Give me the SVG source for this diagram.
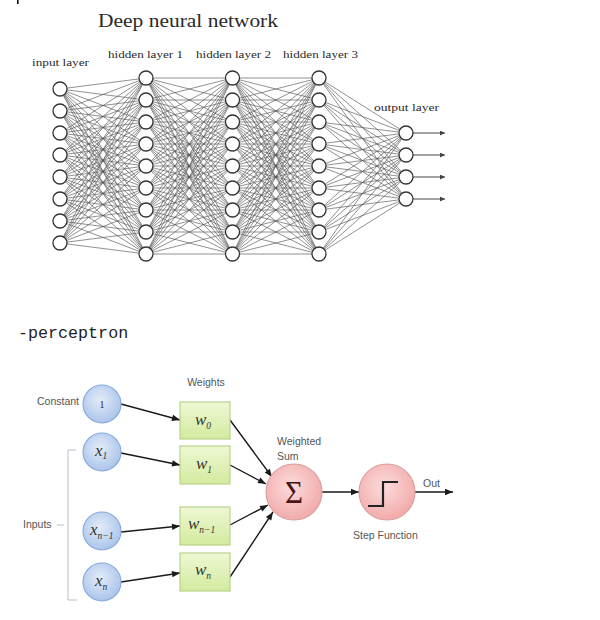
<svg xmlns="http://www.w3.org/2000/svg" xmlns:xlink="http://www.w3.org/1999/xlink" width="600" height="620" viewBox="0 0 600 620">
<style>
.edge{fill:none;stroke:#555;stroke-width:0.65}
.nn circle{fill:#fff;stroke:#333;stroke-width:1.3}
.ttl{font-family:"Liberation Serif",serif;fill:#2a2a2a}
.lbl{font-family:"Liberation Serif",serif;font-size:10px;fill:#2a2a2a}
.outarr{stroke:#444;stroke-width:1;fill:none}
.ps{font-family:"Liberation Sans",Arial,sans-serif;font-size:10.5px;fill:#555}
.m{font-family:"Liberation Serif",serif;font-style:italic;font-size:17px;fill:#333}
.sb{font-size:9.5px}
.blue{fill:url(#gb);stroke:#86a8da;stroke-width:1.1}
.green{fill:url(#gg);stroke:#b4cf84;stroke-width:1.1}
.pink{fill:url(#gp);stroke:#d99e9e;stroke-width:1.1}
.arr{stroke:#1a1a1a;stroke-width:1.4;fill:none;marker-end:url(#ap)}
</style>
<defs>
<radialGradient id="gb" cx="45%" cy="40%" r="65%"><stop offset="0" stop-color="#e3ecf9"/><stop offset="1" stop-color="#a6c1e9"/></radialGradient>
<radialGradient id="gp" cx="45%" cy="40%" r="65%"><stop offset="0" stop-color="#fcdcdc"/><stop offset="1" stop-color="#f1a6a6"/></radialGradient>
<linearGradient id="gg" x1="0" y1="0" x2="0" y2="1"><stop offset="0" stop-color="#eef8d4"/><stop offset="1" stop-color="#d3ea9e"/></linearGradient>
<marker id="an" viewBox="0 0 6 6" refX="6" refY="3" markerWidth="5" markerHeight="5" markerUnits="userSpaceOnUse" orient="auto"><path d="M0,0L6,3L0,6z" fill="#444"/></marker>
<marker id="ap" viewBox="0 0 10 10" refX="10" refY="5" markerWidth="9" markerHeight="8" markerUnits="userSpaceOnUse" orient="auto"><path d="M0,1L10,5L0,9z" fill="#1a1a1a"/></marker>
<path id="hh" d="M0,78L86.5,78M0,78L86.5,100M0,78L86.5,122M0,78L86.5,144M0,78L86.5,166M0,78L86.5,188M0,78L86.5,210M0,78L86.5,232M0,78L86.5,254
M0,100L86.5,78M0,100L86.5,100M0,100L86.5,122M0,100L86.5,144M0,100L86.5,166M0,100L86.5,188M0,100L86.5,210M0,100L86.5,232M0,100L86.5,254
M0,122L86.5,78M0,122L86.5,100M0,122L86.5,122M0,122L86.5,144M0,122L86.5,166M0,122L86.5,188M0,122L86.5,210M0,122L86.5,232M0,122L86.5,254
M0,144L86.5,78M0,144L86.5,100M0,144L86.5,122M0,144L86.5,144M0,144L86.5,166M0,144L86.5,188M0,144L86.5,210M0,144L86.5,232M0,144L86.5,254
M0,166L86.5,78M0,166L86.5,100M0,166L86.5,122M0,166L86.5,144M0,166L86.5,166M0,166L86.5,188M0,166L86.5,210M0,166L86.5,232M0,166L86.5,254
M0,188L86.5,78M0,188L86.5,100M0,188L86.5,122M0,188L86.5,144M0,188L86.5,166M0,188L86.5,188M0,188L86.5,210M0,188L86.5,232M0,188L86.5,254
M0,210L86.5,78M0,210L86.5,100M0,210L86.5,122M0,210L86.5,144M0,210L86.5,166M0,210L86.5,188M0,210L86.5,210M0,210L86.5,232M0,210L86.5,254
M0,232L86.5,78M0,232L86.5,100M0,232L86.5,122M0,232L86.5,144M0,232L86.5,166M0,232L86.5,188M0,232L86.5,210M0,232L86.5,232M0,232L86.5,254
M0,254L86.5,78M0,254L86.5,100M0,254L86.5,122M0,254L86.5,144M0,254L86.5,166M0,254L86.5,188M0,254L86.5,210M0,254L86.5,232M0,254L86.5,254"/>
</defs>
<rect width="600" height="620" fill="#fff"/>
<rect x="17" y="0" width="1.6" height="4" fill="#111"/>

<!-- Deep neural network -->
<text class="ttl" x="98" y="27" font-size="19.5" textLength="180" lengthAdjust="spacingAndGlyphs">Deep neural network</text>
<text class="lbl" x="32" y="66" textLength="57" lengthAdjust="spacingAndGlyphs">input layer</text>
<text class="lbl" x="108" y="58" textLength="75" lengthAdjust="spacingAndGlyphs">hidden layer 1</text>
<text class="lbl" x="196" y="58" textLength="75" lengthAdjust="spacingAndGlyphs">hidden layer 2</text>
<text class="lbl" x="283" y="58" textLength="75" lengthAdjust="spacingAndGlyphs">hidden layer 3</text>
<text class="lbl" x="374" y="111" textLength="65" lengthAdjust="spacingAndGlyphs">output layer</text>

<g id="connectors">
<path class="edge" d="M60,89L146,78M60,89L146,100M60,89L146,122M60,89L146,144M60,89L146,166M60,89L146,188M60,89L146,210M60,89L146,232M60,89L146,254
M60,111L146,78M60,111L146,100M60,111L146,122M60,111L146,144M60,111L146,166M60,111L146,188M60,111L146,210M60,111L146,232M60,111L146,254
M60,133L146,78M60,133L146,100M60,133L146,122M60,133L146,144M60,133L146,166M60,133L146,188M60,133L146,210M60,133L146,232M60,133L146,254
M60,155L146,78M60,155L146,100M60,155L146,122M60,155L146,144M60,155L146,166M60,155L146,188M60,155L146,210M60,155L146,232M60,155L146,254
M60,177L146,78M60,177L146,100M60,177L146,122M60,177L146,144M60,177L146,166M60,177L146,188M60,177L146,210M60,177L146,232M60,177L146,254
M60,199L146,78M60,199L146,100M60,199L146,122M60,199L146,144M60,199L146,166M60,199L146,188M60,199L146,210M60,199L146,232M60,199L146,254
M60,221L146,78M60,221L146,100M60,221L146,122M60,221L146,144M60,221L146,166M60,221L146,188M60,221L146,210M60,221L146,232M60,221L146,254
M60,243L146,78M60,243L146,100M60,243L146,122M60,243L146,144M60,243L146,166M60,243L146,188M60,243L146,210M60,243L146,232M60,243L146,254"/>
<use href="#hh" xlink:href="#hh" class="edge" x="146" y="0"/>
<use href="#hh" xlink:href="#hh" class="edge" x="232.5" y="0"/>
<path class="edge" d="M319,78L406,133M319,78L406,155M319,78L406,177M319,78L406,199
M319,100L406,133M319,100L406,155M319,100L406,177M319,100L406,199
M319,122L406,133M319,122L406,155M319,122L406,177M319,122L406,199
M319,144L406,133M319,144L406,155M319,144L406,177M319,144L406,199
M319,166L406,133M319,166L406,155M319,166L406,177M319,166L406,199
M319,188L406,133M319,188L406,155M319,188L406,177M319,188L406,199
M319,210L406,133M319,210L406,155M319,210L406,177M319,210L406,199
M319,232L406,133M319,232L406,155M319,232L406,177M319,232L406,199
M319,254L406,133M319,254L406,155M319,254L406,177M319,254L406,199"/>
<path class="outarr" marker-end="url(#an)" d="M413,133H445"/>
<path class="outarr" marker-end="url(#an)" d="M413,155H445"/>
<path class="outarr" marker-end="url(#an)" d="M413,177H445"/>
<path class="outarr" marker-end="url(#an)" d="M413,199H445"/>

<!-- perceptron connectors -->
<path class="arr" d="M121,404L180,420"/>
<path class="arr" d="M121,453L180,465"/>
<path class="arr" d="M121,532L180,526"/>
<path class="arr" d="M121,582L180,573"/>
<path class="arr" d="M230,420L272,477"/>
<path class="arr" d="M230,465L266,484"/>
<path class="arr" d="M230,525L268,505"/>
<path class="arr" d="M230,577L273,512"/>
<path class="arr" d="M322,492L359,492"/>
<path class="arr" d="M415,492L453,492"/>
</g>

<g class="nn">
<g id="in-1"><circle cx="60" cy="89" r="7"/></g>
<g id="in-2"><circle cx="60" cy="111" r="7"/></g>
<g id="in-3"><circle cx="60" cy="133" r="7"/></g>
<g id="in-4"><circle cx="60" cy="155" r="7"/></g>
<g id="in-5"><circle cx="60" cy="177" r="7"/></g>
<g id="in-6"><circle cx="60" cy="199" r="7"/></g>
<g id="in-7"><circle cx="60" cy="221" r="7"/></g>
<g id="in-8"><circle cx="60" cy="243" r="7"/></g>
<g id="h1-1"><circle cx="146" cy="78" r="7"/></g>
<g id="h1-2"><circle cx="146" cy="100" r="7"/></g>
<g id="h1-3"><circle cx="146" cy="122" r="7"/></g>
<g id="h1-4"><circle cx="146" cy="144" r="7"/></g>
<g id="h1-5"><circle cx="146" cy="166" r="7"/></g>
<g id="h1-6"><circle cx="146" cy="188" r="7"/></g>
<g id="h1-7"><circle cx="146" cy="210" r="7"/></g>
<g id="h1-8"><circle cx="146" cy="232" r="7"/></g>
<g id="h1-9"><circle cx="146" cy="254" r="7"/></g>
<g id="h2-1"><circle cx="232.5" cy="78" r="7"/></g>
<g id="h2-2"><circle cx="232.5" cy="100" r="7"/></g>
<g id="h2-3"><circle cx="232.5" cy="122" r="7"/></g>
<g id="h2-4"><circle cx="232.5" cy="144" r="7"/></g>
<g id="h2-5"><circle cx="232.5" cy="166" r="7"/></g>
<g id="h2-6"><circle cx="232.5" cy="188" r="7"/></g>
<g id="h2-7"><circle cx="232.5" cy="210" r="7"/></g>
<g id="h2-8"><circle cx="232.5" cy="232" r="7"/></g>
<g id="h2-9"><circle cx="232.5" cy="254" r="7"/></g>
<g id="h3-1"><circle cx="319" cy="78" r="7"/></g>
<g id="h3-2"><circle cx="319" cy="100" r="7"/></g>
<g id="h3-3"><circle cx="319" cy="122" r="7"/></g>
<g id="h3-4"><circle cx="319" cy="144" r="7"/></g>
<g id="h3-5"><circle cx="319" cy="166" r="7"/></g>
<g id="h3-6"><circle cx="319" cy="188" r="7"/></g>
<g id="h3-7"><circle cx="319" cy="210" r="7"/></g>
<g id="h3-8"><circle cx="319" cy="232" r="7"/></g>
<g id="h3-9"><circle cx="319" cy="254" r="7"/></g>
<g id="out-1"><circle cx="406" cy="133" r="7"/></g>
<g id="out-2"><circle cx="406" cy="155" r="7"/></g>
<g id="out-3"><circle cx="406" cy="177" r="7"/></g>
<g id="out-4"><circle cx="406" cy="199" r="7"/></g>
</g>

<!-- perceptron -->
<text x="18" y="338" font-family="Liberation Mono, monospace" font-size="16.7" fill="#222">-perceptron</text>

<text class="ps" x="206" y="386" text-anchor="middle">Weights</text>
<text class="ps" x="37" y="405">Constant</text>
<text class="ps" x="23" y="528">Inputs</text>
<path d="M57,525H64M76,450H68V600H77" fill="none" stroke="#b4bccb" stroke-width="1"/>

<g id="p-const"><circle class="blue" cx="102" cy="404" r="19"/><text x="102" y="408" text-anchor="middle" font-family="Liberation Serif, serif" font-size="11" fill="#333">1</text></g>
<g id="p-x1"><circle class="blue" cx="102" cy="452" r="19"/><text class="m" x="95" y="456">x<tspan class="sb" dy="3">1</tspan></text></g>
<g id="p-xn1"><circle class="blue" cx="102" cy="531" r="19"/><text class="m" x="90" y="535">x<tspan class="sb" dy="4">n−1</tspan></text></g>
<g id="p-xn"><circle class="blue" cx="102" cy="582" r="19"/><text class="m" x="95" y="586">x<tspan class="sb" dy="4">n</tspan></text></g>

<g id="p-w0"><rect class="green" x="180" y="402" width="50" height="37"/><text class="m" x="195" y="425">w<tspan class="sb" dy="4">0</tspan></text></g>
<g id="p-w1"><rect class="green" x="180" y="446" width="50" height="38"/><text class="m" x="196" y="469">w<tspan class="sb" dy="4">1</tspan></text></g>
<g id="p-wn1"><rect class="green" x="180" y="507" width="50" height="38"/><text class="m" x="188" y="529">w<tspan class="sb" dy="4">n−1</tspan></text></g>
<g id="p-wn"><rect class="green" x="180" y="553" width="50" height="38"/><text class="m" x="195" y="575">w<tspan class="sb" dy="4">n</tspan></text></g>

<g id="p-sum"><circle class="pink" cx="294" cy="492" r="28"/><text x="294" y="503" text-anchor="middle" font-family="Liberation Serif, serif" font-size="31" fill="#4a1515">Σ</text></g>
<text class="ps" x="277" y="445">Weighted</text>
<text class="ps" x="277" y="460">Sum</text>

<g id="p-step"><circle class="pink" cx="387" cy="492" r="28"/><path d="M368,506H383V482H398" fill="none" stroke="#222" stroke-width="2.2"/></g>
<text class="ps" x="353" y="539">Step Function</text>
<text class="ps" x="423" y="487">Out</text>
</svg>
